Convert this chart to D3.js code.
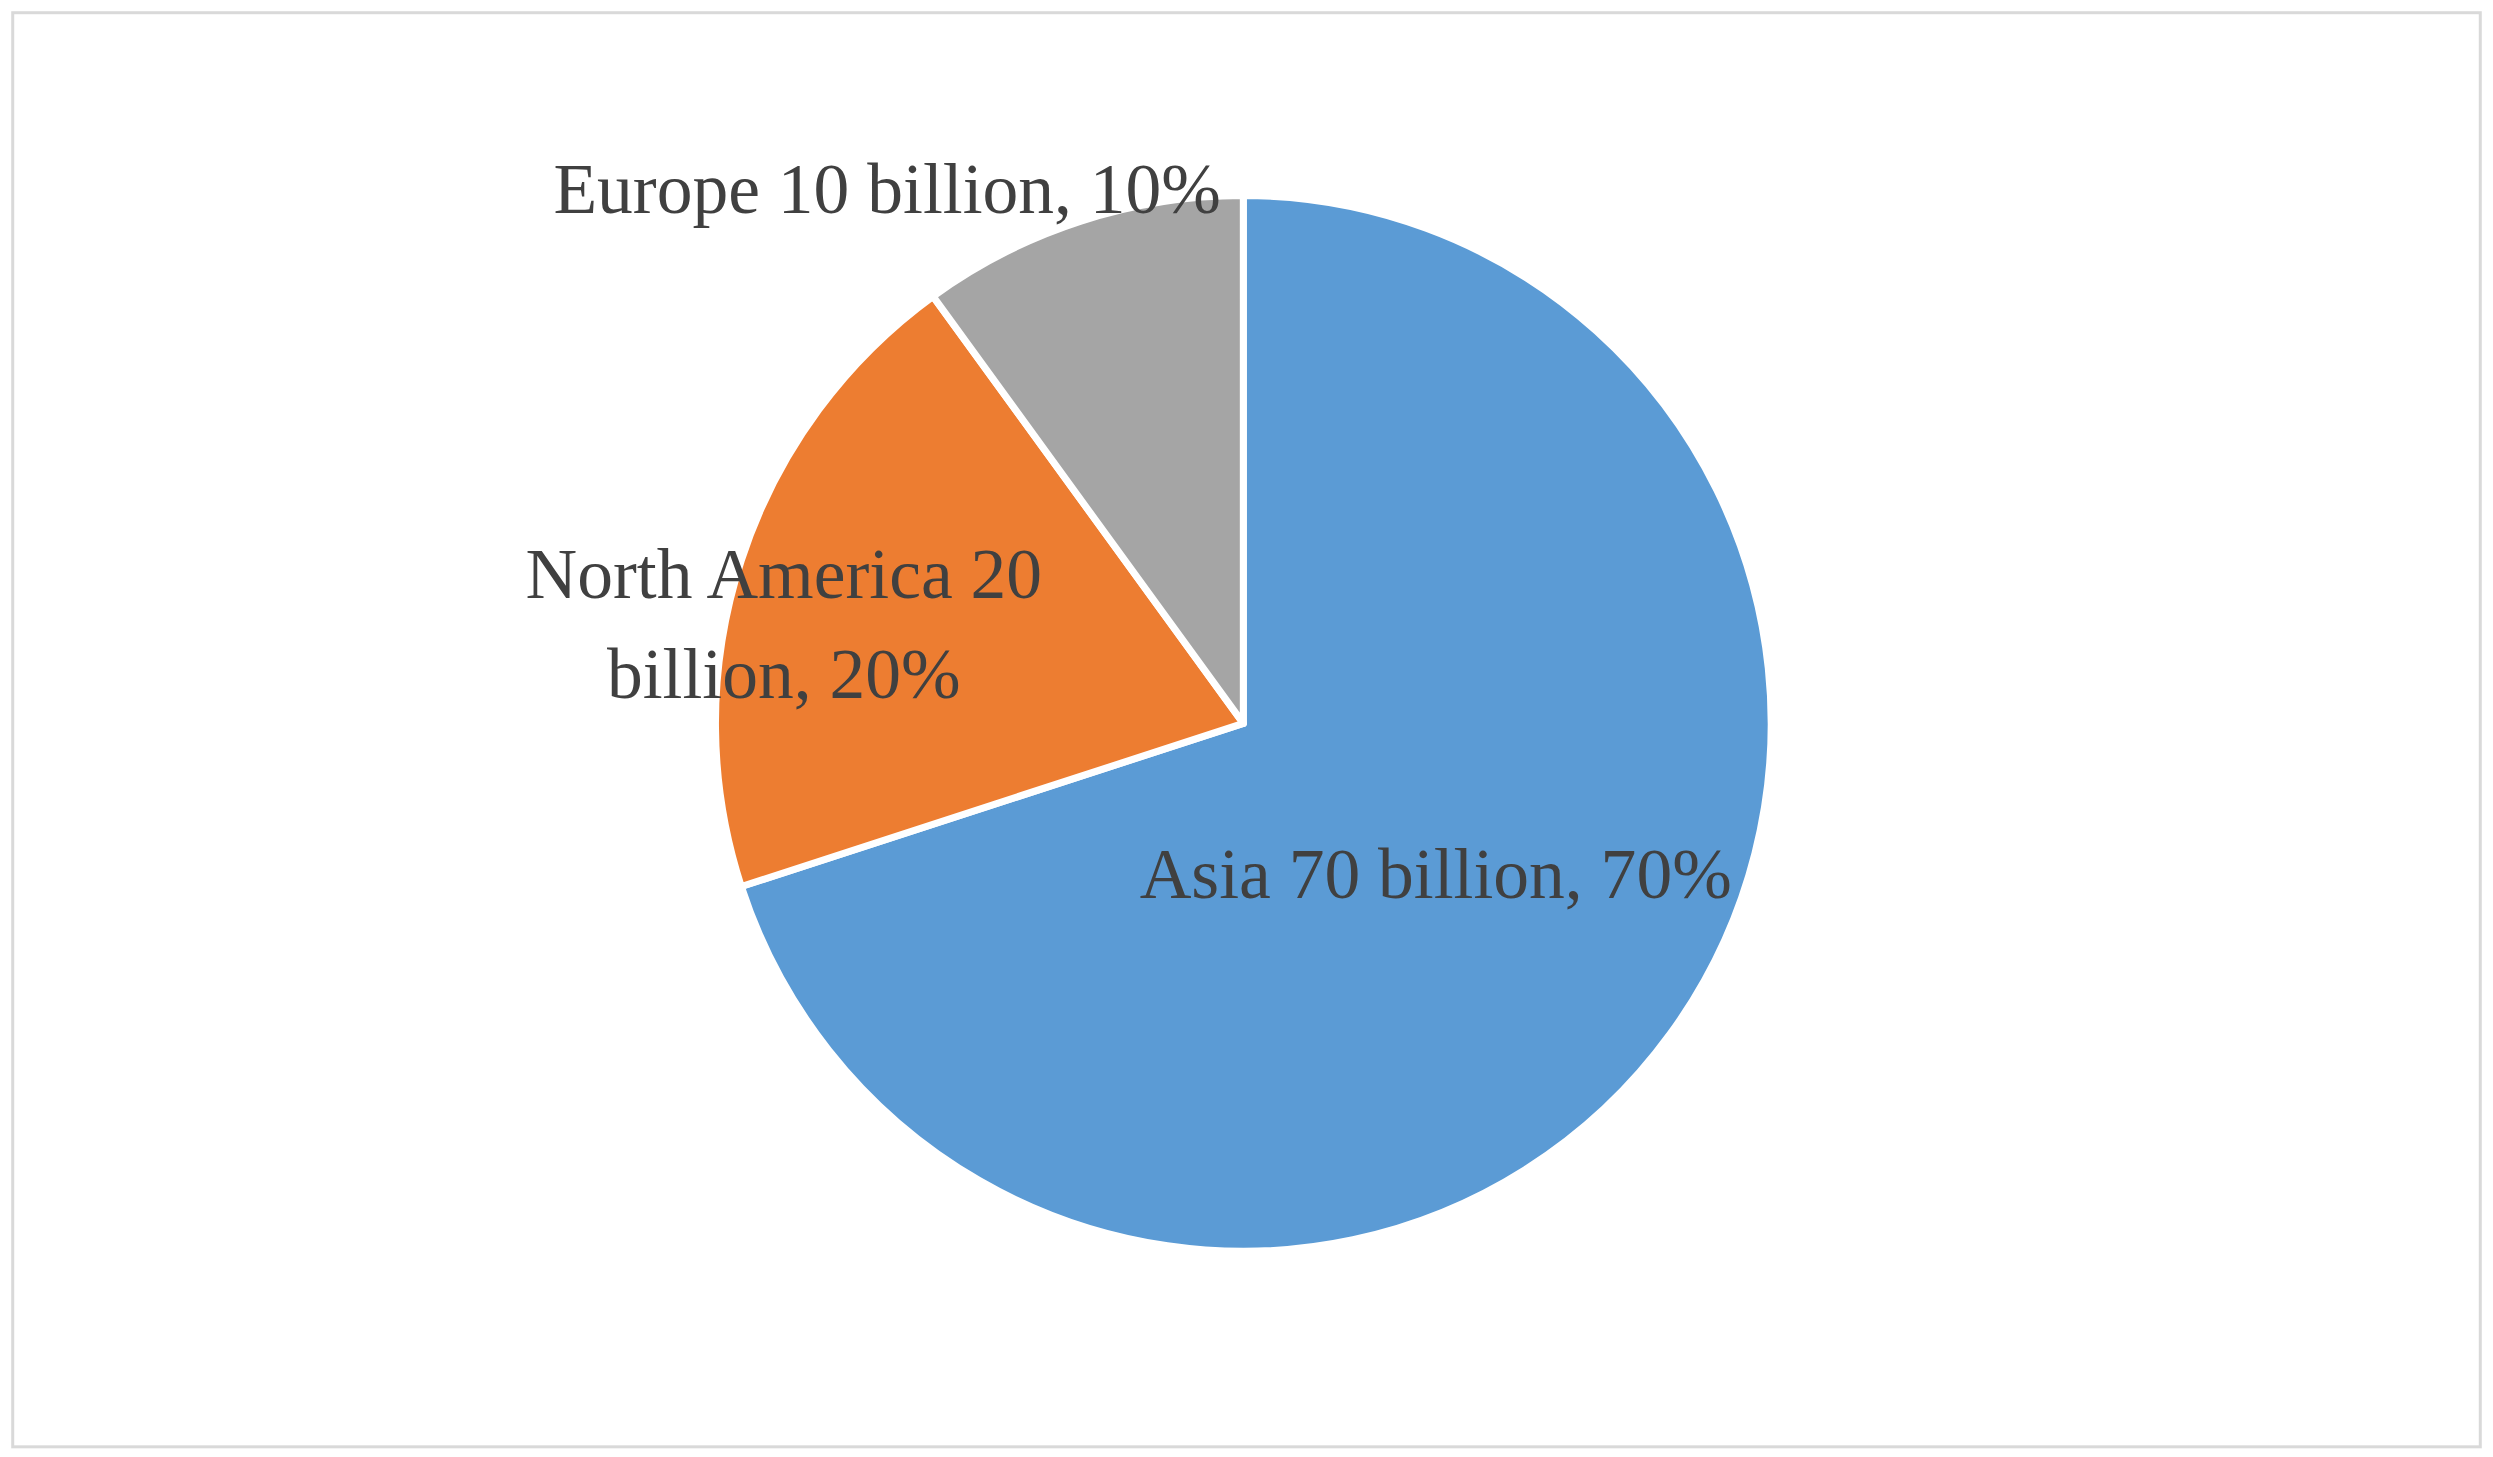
<!DOCTYPE html>
<html>
<head>
<meta charset="utf-8">
<script src="https://cdn.jsdelivr.net/npm/d3@7"></script>
<style>
  body { margin: 0; background: #fff; }
  text { font-family: "Liberation Serif", "DejaVu Serif", serif; fill: #404040; }
</style>
</head>
<body>
<script>
// Chart data
const regions = ["Asia", "North America", "Europe"];
const values = [70, 20, 10];
const labelLines = [
    ["Asia 70 billion, 70%"],
    ["North America 20", "billion, 20%"],
    ["Europe 10 billion, 10%"],
];
const colors = ["#5b9bd5", "#ed7d31", "#a5a5a5"];

const W = 2493, H = 1457;
const S = W / 1568; // reference was measured at 1568 wide
const cx = 782 * S, cy = 455 * S, radius = 332 * S;

const svg = d3.select("body").append("svg").attr("width", W).attr("height", H);

svg.append("rect")
    .attr("x", 8 * S).attr("y", 8 * S)
    .attr("width", 1552 * S).attr("height", 902 * S)
    .attr("fill", "#fff").attr("stroke", "#d9d9d9").attr("stroke-width", 3);

const pie = d3.pie().sort(null).value((d) => d.value);
const arcs = pie(regions.map((r, i) => ({ region: r, value: values[i], i })));
const arc = d3.arc().innerRadius(0).outerRadius(radius);

const g = svg.append("g").attr("transform", "translate(" + cx + "," + cy + ")");
g.selectAll("path")
    .data(arcs)
    .enter()
    .append("path")
    .attr("d", arc)
    .attr("fill", (d) => colors[d.data.i])
    .attr("stroke", "#fff")
    .attr("stroke-width", 7)
    .attr("stroke-linejoin", "round");

// Label positions (reference coords), centred text
const labelPos = [[903, 565], [493, 376], [558, 134]];
const fontSize = 45 * S;
const lh = 63 * S;
arcs.forEach((d, k) => {
    const i = d.data.i;
    const t = svg.append("text")
        .attr("text-anchor", "middle")
        .attr("font-size", fontSize)
        .attr("x", labelPos[i][0] * S)
        .attr("y", labelPos[i][1] * S);
    labelLines[i].forEach((line, j) => {
        t.append("tspan").attr("x", labelPos[i][0] * S).attr("dy", j ? lh : 0).text(line);
    });
});
</script>
</body>
</html>
